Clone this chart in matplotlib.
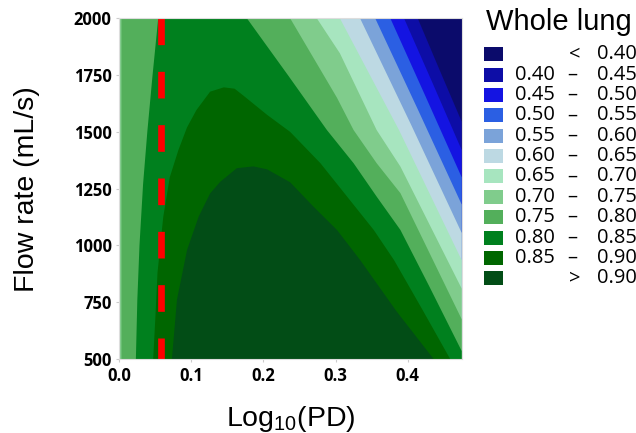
import numpy as np
import matplotlib.pyplot as plt
from matplotlib.patches import Rectangle

plt.rcParams['mathtext.default'] = 'regular'

# band colours, lowest band first (< 0.40 ... > 0.90)
band_colors = ['#0b0b6b', '#0d0da6', '#1414e2', '#2b5fe3', '#7ba3d9', '#bdd9e3',
               '#a7e5bf', '#80cc8c', '#53af5b', '#00801e', '#006600', '#024d16']
levels = [0.40, 0.45, 0.50, 0.55, 0.60, 0.65, 0.70, 0.75, 0.80, 0.85, 0.90]

x_min, x_max = 0.0, 0.475
y_min, y_max = 500, 2000
x_ticks = [0.0, 0.1, 0.2, 0.3, 0.4]
y_ticks = [500, 750, 1000, 1250, 1500, 1750, 2000]
pd_marker = 0.058   # red dashed line

# contour lines (x = Log10(PD), y = flow rate mL/s)
# diagonal lines run from the top edge down to the right edge
c040_x = [0.414, 0.444, 0.475]
c040_y = [2000, 1775, 1545]
c045_x = [0.395, 0.435, 0.475]
c045_y = [2000, 1712, 1420]
c050_x = [0.376, 0.425, 0.475]
c050_y = [2000, 1655, 1300]
c055_x = [0.355, 0.415, 0.475]
c055_y = [2000, 1593, 1180]
c060_x = [0.334, 0.405, 0.475]
c060_y = [2000, 1530, 1055]
c065_x = [0.306, 0.388, 0.475]
c065_y = [2000, 1508, 935]
c070_x = [0.274, 0.306, 0.357, 0.390, 0.475]
c070_y = [2000, 1846, 1508, 1347, 810]
c075_x = [0.237, 0.302, 0.325, 0.357, 0.390, 0.475]
c075_y = [2000, 1650, 1508, 1362, 1230, 675]
c075_left_x = [0.003, 0.003]
c075_left_y = [500, 2000]
c080_x = [0.177, 0.235, 0.288, 0.325, 0.357, 0.390, 0.430, 0.475]
c080_y = [2000, 1745, 1508, 1362, 1215, 1068, 820, 535]
c080_left_x = [0.023, 0.025, 0.028, 0.033, 0.039, 0.046, 0.054]
c080_left_y = [500, 759, 1000, 1270, 1505, 1745, 2000]
# domes, from bottom-left round to bottom-right
c085_x = [0.047, 0.050, 0.053, 0.061, 0.070, 0.082, 0.094, 0.107, 0.126, 0.145,
          0.160, 0.172, 0.205, 0.237, 0.279, 0.316, 0.353, 0.381, 0.420, 0.459]
c085_y = [500, 680, 880, 1126, 1300, 1420, 1520, 1596, 1677, 1696,
          1690, 1660, 1575, 1500, 1362, 1215, 1068, 936, 720, 500]
c090_x = [0.073, 0.080, 0.094, 0.110, 0.126, 0.140, 0.163, 0.186, 0.205,
          0.237, 0.269, 0.302, 0.334, 0.385, 0.436]
c090_y = [500, 761, 980, 1126, 1229, 1280, 1340, 1348, 1335,
          1278, 1172, 1068, 936, 708, 500]


def region_above(left_x, left_y, right_x, right_y):
    # polygon of {value > level}: left boundary going up, right boundary going down
    xs = list(left_x) + list(right_x)
    ys = list(left_y) + list(right_y)
    if ys[-1] > y_min:
        xs.append(x_max)
        ys.append(y_min)
    return xs, ys


edge_x = [x_min, x_min]
edge_y = [y_min, y_max]
regions = [
    region_above(edge_x, edge_y, c040_x, c040_y),
    region_above(edge_x, edge_y, c045_x, c045_y),
    region_above(edge_x, edge_y, c050_x, c050_y),
    region_above(edge_x, edge_y, c055_x, c055_y),
    region_above(edge_x, edge_y, c060_x, c060_y),
    region_above(edge_x, edge_y, c065_x, c065_y),
    region_above(edge_x, edge_y, c070_x, c070_y),
    region_above(c075_left_x, c075_left_y, c075_x, c075_y),
    region_above(c080_left_x, c080_left_y, c080_x, c080_y),
    (c085_x, c085_y),
    (c090_x, c090_y),
]

fig = plt.figure(figsize=(6.36, 4.33), dpi=100)
ax = fig.add_axes([119.3 / 636, 1 - 359 / 433, 342.4 / 636, 340.7 / 433])

ax.fill([x_min, x_max, x_max, x_min], [y_min, y_min, y_max, y_max],
        color=band_colors[0], lw=0)
for i, (xs, ys) in enumerate(regions):
    ax.fill(xs, ys, color=band_colors[i + 1], lw=0)

ax.plot([pd_marker, pd_marker], [y_max, y_min], color='#ff0000', lw=4.8,
        linestyle=(0, (4, 4)), solid_capstyle='butt', dash_capstyle='butt')

ax.set_xlim(x_min, x_max)
ax.set_ylim(y_min, y_max)
ax.set_xticks(x_ticks)
ax.set_yticks(y_ticks)
ax.set_xticklabels(['%.1f' % v for v in x_ticks])
ax.set_yticklabels([str(v) for v in y_ticks])
for lab in ax.get_xticklabels() + ax.get_yticklabels():
    lab.set_fontfamily('Open Sans')
    lab.set_fontweight('bold')
    lab.set_fontsize(12)
ax.tick_params(length=2.5, width=0.8, color='#cccccc', pad=3)
for sp in ax.spines.values():
    sp.set_color('#dddddd')
    sp.set_linewidth(0.8)

ax.set_xlabel('Log$_{10}$(PD)', fontsize=20.5, family='Liberation Sans', labelpad=14)
ax.set_ylabel('Flow rate (mL/s)', fontsize=20.5, family='Liberation Sans', labelpad=24)

# legend, drawn in figure pixels
W, H = 636, 433
fig.text(486 / W, 1 - 22 / H, 'Whole lung', fontsize=21, family='Liberation Sans',
         ha='left', va='center')
for i, col in enumerate(band_colors):
    cy = 54.3 + i * 20.36
    fig.patches.append(Rectangle((484 / W, 1 - (cy + 7) / H), 18.7 / W, 14 / H,
                                 transform=fig.transFigure, color=col, lw=0))
    if i == 0:
        fig.text(575 / W, 1 - cy / H, '<', fontsize=14.5, family='Open Sans',
                 ha='center', va='center')
        right = '%.2f' % levels[0]
    elif i == len(band_colors) - 1:
        fig.text(575 / W, 1 - cy / H, '>', fontsize=14.5, family='Open Sans',
                 ha='center', va='center')
        right = '%.2f' % levels[-1]
    else:
        fig.text(515 / W, 1 - cy / H, '%.2f' % levels[i - 1], fontsize=14.5,
                 family='Open Sans', ha='left', va='center')
        fig.text(572 / W, 1 - cy / H, '\u2013', fontsize=14.5, family='Open Sans',
                 ha='center', va='center')
        right = '%.2f' % levels[i]
    fig.text(596.5 / W, 1 - cy / H, right, fontsize=14.5, family='Open Sans',
             ha='left', va='center')

fig.savefig('out.png', dpi=100)
